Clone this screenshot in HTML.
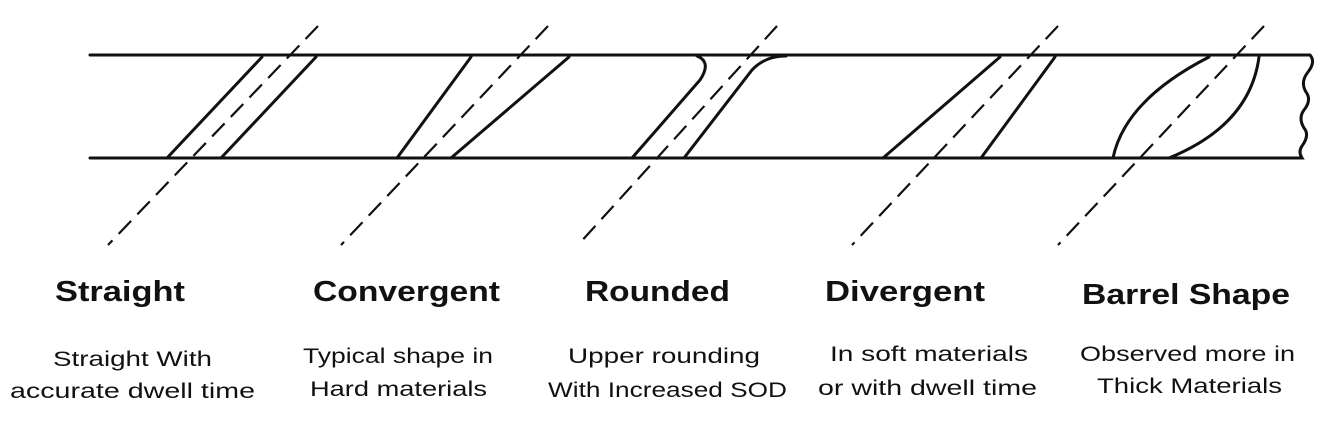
<!DOCTYPE html>
<html><head><meta charset="utf-8"><style>
html,body{margin:0;padding:0;background:#fff;}
svg{display:block;}
text{font-family:"Liberation Sans",sans-serif;fill:#111;}
.h{font-weight:bold;font-size:29px;}
.s{font-size:21px;}
</style></head><body>
<svg width="1334" height="426" viewBox="0 0 1334 426" xmlns="http://www.w3.org/2000/svg">
<g stroke="#111" stroke-width="3" fill="none" stroke-linecap="round">
<!-- plate -->
<path d="M90 55 H1310 Q1316 62 1308 72 Q1300 82 1306 92 Q1312 100 1304 110 Q1298 118 1304 128 Q1310 135 1302 146 Q1298 152 1302 158 H90"/>
<!-- straight -->
<line x1="262" y1="57" x2="167" y2="158"/>
<line x1="316" y1="57" x2="221" y2="158"/>
<!-- convergent -->
<line x1="471" y1="57" x2="397" y2="158"/>
<line x1="569" y1="57" x2="451" y2="158"/>
<!-- rounded -->
<path d="M632 158 L700 80 Q712 62 697 56"/>
<path d="M684 158 L752 70 Q765 56 786 56"/>
<!-- divergent -->
<line x1="1000" y1="57" x2="883" y2="158"/>
<line x1="1055" y1="57" x2="981" y2="158"/>
<!-- barrel -->
<path d="M1209 57 Q1125 100 1113 158"/>
<path d="M1259 57 Q1250 125 1169 158"/>
</g>
<g stroke="#111" stroke-width="2.2" fill="none" stroke-dasharray="18 9">
<line x1="318" y1="26" x2="108" y2="245"/>
<line x1="548" y1="26" x2="341" y2="245"/>
<line x1="777" y1="26" x2="578" y2="245"/>
<line x1="1058" y1="26" x2="852" y2="245"/>
<line x1="1264" y1="26" x2="1058" y2="245"/>
</g>
<text class="h" x="55" y="301" textLength="130" lengthAdjust="spacingAndGlyphs">Straight</text>
<text class="h" x="313" y="301" textLength="187" lengthAdjust="spacingAndGlyphs">Convergent</text>
<text class="h" x="585" y="301" textLength="145" lengthAdjust="spacingAndGlyphs">Rounded</text>
<text class="h" x="825" y="301" textLength="160" lengthAdjust="spacingAndGlyphs">Divergent</text>
<text class="h" x="1082" y="304" textLength="208" lengthAdjust="spacingAndGlyphs">Barrel Shape</text>
<text class="s" x="53" y="366" textLength="159" lengthAdjust="spacingAndGlyphs">Straight With</text>
<text class="s" x="10" y="398" textLength="245" lengthAdjust="spacingAndGlyphs">accurate  dwell time</text>
<text class="s" x="303" y="363" textLength="190" lengthAdjust="spacingAndGlyphs">Typical shape in</text>
<text class="s" x="310" y="396" textLength="177" lengthAdjust="spacingAndGlyphs">Hard materials</text>
<text class="s" x="568" y="363" textLength="192" lengthAdjust="spacingAndGlyphs">Upper rounding</text>
<text class="s" x="548" y="397" textLength="239" lengthAdjust="spacingAndGlyphs">With Increased SOD</text>
<text class="s" x="830" y="361" textLength="198" lengthAdjust="spacingAndGlyphs">In soft materials</text>
<text class="s" x="818" y="395" textLength="219" lengthAdjust="spacingAndGlyphs">or with dwell time</text>
<text class="s" x="1080" y="361" textLength="215" lengthAdjust="spacingAndGlyphs">Observed more in</text>
<text class="s" x="1097" y="393" textLength="185" lengthAdjust="spacingAndGlyphs">Thick Materials</text>
</svg>
</body></html>
